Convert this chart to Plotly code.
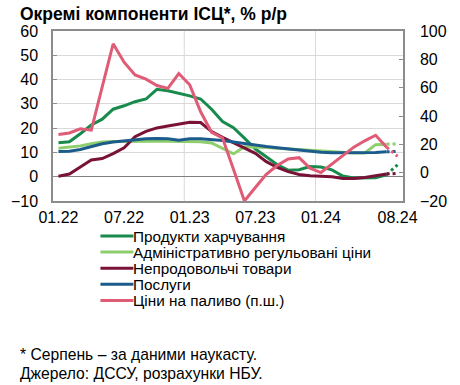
import plotly.graph_objects as go

# ---------------- data ----------------
months = ["01.22","02.22","03.22","04.22","05.22","06.22","07.22","08.22","09.22","10.22","11.22","12.22",
          "01.23","02.23","03.23","04.23","05.23","06.23","07.23","08.23","09.23","10.23","11.23","12.23",
          "01.24","02.24","03.24","04.24","05.24","06.24","07.24","08.24"]
tick_labels = ["01.22", "07.22", "01.23", "07.23", "01.24", "08.24"]

food = [14.0, 14.4, 17.7, 21.3, 23.7, 27.8, 29.2, 30.9, 32.0, 36.0, 35.4, 34.5,
        33.3, 32.0, 27.8, 22.7, 20.2, 15.9, 11.4, 8.2, 4.9, 2.7, 2.9, 4.2,
        4.0, 2.8, 0.3, -0.5, -0.5, -0.4, 0.8, 4.9]
admin = [11.7, 12.1, 12.7, 13.6, 14.3, 14.5, 14.6, 14.6, 14.6, 14.6, 14.6, 14.6,
         14.6, 14.4, 13.9, 11.8, 9.4, 12.3, 12.3, 12.0, 11.7, 11.4, 11.1, 10.8,
         10.5, 10.2, 10.0, 9.8, 9.8, 13.2, 13.4, 13.5]
nonfood = [0.2, 1.1, 4.0, 6.9, 7.5, 9.5, 11.9, 16.5, 18.7, 20.1, 20.9, 21.6,
           22.4, 22.3, 18.6, 16.2, 14.0, 12.1, 9.6, 6.2, 3.8, 2.1, 0.9, 0.4,
           0.2, 0.0, -0.7, -0.7, -0.3, 0.3, 1.1, 1.4]
services = [10.4, 10.5, 11.2, 12.5, 13.6, 14.3, 14.8, 15.3, 15.6, 15.7, 15.6, 15.0,
            15.6, 15.6, 15.4, 14.9, 14.3, 13.6, 13.0, 12.4, 11.9, 11.4, 10.9, 10.4,
            10.1, 9.9, 9.9, 9.9, 9.9, 10.0, 10.3, 10.4]
fuel = [27.0, 28.0, 31.0, 30.0, 60.5, 91.0, 78.0, 69.0, 66.0, 61.5, 59.5, 70.0,
        62.0, 43.0, 28.5, 24.5, 2.5, -20.0, -10.5, -1.2, 5.0, 9.6, 10.6, 3.2,
        0.1, 6.0, 12.0, 18.0, 22.5, 26.4, 18.0, 11.5]

names = ["Продукти харчування", "Адміністративно регульовані ціни",
         "Непродовольчі товари", "Послуги", "Ціни на паливо (п.ш.)"]
colors = ["#178a4c", "#8fce6c", "#7a1238", "#1c5c8c", "#e05c76"]
series = [food, admin, nonfood, services, fuel]
on_right = [False, False, False, False, True]

# ---------------- figure ----------------
W, H = 460, 385
ML, MR, MT, MB = 52.5, 57, 31, 184
FONT = "Liberation Sans, Arial, sans-serif"
FS = 16

fig = go.Figure()
x = list(range(len(months)))
n_solid = len(months) - 1  # last month is nowcast (dotted)

for s, name, col, right in zip(series, names, colors, on_right):
    ya = "y2" if right else "y"
    fig.add_trace(go.Scatter(x=x[:n_solid], y=s[:n_solid], mode="lines", name=name,
                             line=dict(color=col, width=3), yaxis=ya, showlegend=False))
    fig.add_trace(go.Scatter(x=x[n_solid - 1:], y=s[n_solid - 1:], mode="lines", name=name,
                             line=dict(color=col, width=3, dash="dot"), yaxis=ya, showlegend=False))

tickvals = [months.index(t) for t in tick_labels]

fig.update_layout(
    width=W, height=H,
    margin=dict(l=ML, r=MR, t=MT, b=MB, pad=0),
    paper_bgcolor="white", plot_bgcolor="white",
    font=dict(family=FONT, size=FS, color="black"),
    showlegend=False,
    xaxis=dict(range=[-0.5, len(months) - 0.5], tickvals=tickvals, ticktext=tick_labels,
               showgrid=False, zeroline=False, showline=True, mirror=True,
               linecolor="#8c8c8c", linewidth=1.5, ticks="", ticklabelstandoff=1,
               tickfont=dict(size=FS)),
    yaxis=dict(range=[-10, 60], dtick=10, showgrid=True, gridcolor="#d9d9d9", gridwidth=1,
               zeroline=True, zerolinecolor="#808080", zerolinewidth=1.2,
               showline=True, linecolor="#8c8c8c", linewidth=1.5, mirror=False,
               ticks="inside", ticklen=4, tickcolor="#8c8c8c", ticklabelstandoff=10,
               tickfont=dict(size=FS)),
    yaxis2=dict(range=[-20, 100], dtick=20, overlaying="y", side="right", showgrid=False,
                zeroline=False, showline=True, linecolor="#8c8c8c", linewidth=1.5,
                ticks="inside", ticklen=4, tickcolor="#8c8c8c", ticklabelstandoff=12,
                tickfont=dict(size=FS)),
)

# vertical gridlines at year boundaries
for b in [11.5, 23.5]:
    fig.add_shape(type="line", xref="x", yref="paper", x0=b, x1=b, y0=0, y1=1,
                  line=dict(color="#d9d9d9", width=1), layer="below")

plot_h = H - MT - MB
plot_w = W - ML - MR


def py(ypx):
    return (H - MB - ypx) / plot_h


def px(xpx):
    return (xpx - ML) / plot_w


# title
fig.add_annotation(text="<b>Окремі компоненти ІСЦ*, % р/р</b>", xref="paper", yref="paper",
                   x=px(17), y=py(14), xanchor="left", yanchor="middle", showarrow=False,
                   font=dict(size=17.5, family=FONT, color="black"))

# legend (manual, compact line spacing as in the original)
leg_y0, leg_step = 236, 16.1
for k, (name, col) in enumerate(zip(names, colors)):
    yy = py(leg_y0 + k * leg_step)
    fig.add_shape(type="line", xref="paper", yref="paper", x0=px(100), x1=px(133), y0=yy, y1=yy,
                  line=dict(color=col, width=3))
    fig.add_annotation(text=name, xref="paper", yref="paper", x=px(132), y=yy,
                       xanchor="left", yanchor="middle", showarrow=False, borderpad=0,
                       font=dict(size=15.3, family=FONT, color="black"))

# footnotes
for k, t in enumerate(["* Серпень – за даними наукасту.", "Джерело: ДССУ, розрахунки НБУ."]):
    fig.add_annotation(text=t, xref="paper", yref="paper", x=px(17), y=py(354 + k * 19),
                       xanchor="left", yanchor="middle", showarrow=False,
                       font=dict(size=15.7, family=FONT, color="black"))

fig.write_html("out.html", config={"displayModeBar": False},
               post_script="document.body.style.margin='0';document.body.style.overflow='hidden';")
